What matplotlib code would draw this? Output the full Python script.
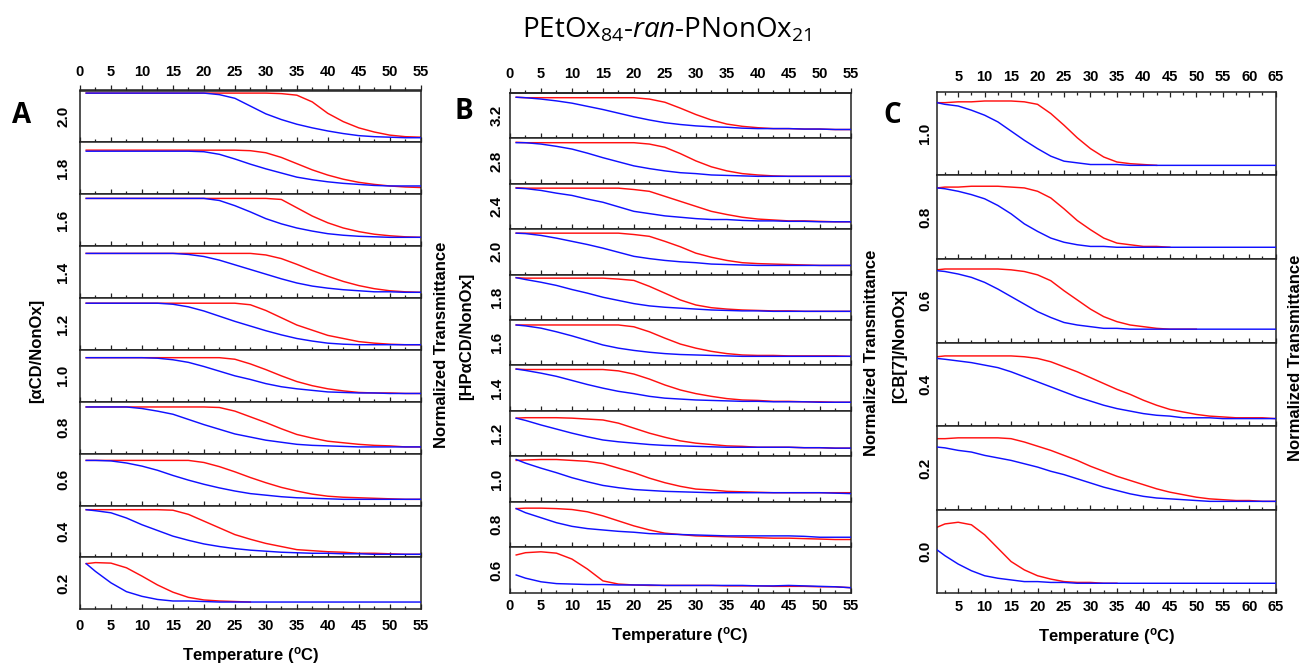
import numpy as np
import matplotlib
matplotlib.use('Agg')
import matplotlib.pyplot as plt
from matplotlib.ticker import FixedLocator

plt.rcParams['font.family'] = ['Liberation Sans', 'DejaVu Sans']
plt.rcParams['font.weight'] = 'bold'
plt.rcParams['mathtext.fontset'] = 'custom'
plt.rcParams['mathtext.rm'] = 'Open Sans:regular'
plt.rcParams['mathtext.it'] = 'Open Sans:italic:regular'
plt.rcParams['mathtext.bf'] = 'Liberation Sans:bold'

nan = np.nan

# ---------------- data ----------------
T_AB = [1, 2.5, 5, 7.5, 10, 12.5, 15, 17.5, 20, 22.5, 25, 27.5, 30, 32.5, 35,
        37.5, 40, 42.5, 45, 47.5, 50, 52.5, 55]
T_C = [1, 2.5, 5, 7.5, 10, 12.5, 15, 17.5, 20, 22.5, 25, 27.5, 30, 32.5, 35,
       37.5, 40, 42.5, 45, 47.5, 50, 52.5, 55, 57.5, 60, 62.5, 65]

A_labels = ['2.0', '1.8', '1.6', '1.4', '1.2', '1.0', '0.8', '0.6', '0.4', '0.2']
A_red = [
    [95, 95, 95, 95, 95, 95, 95, 95, 95, 95, 95, 95, 95, 94, 91, 78, 56, 40, 28, 20, 14, 11, 10],
    [85, 85, 85, 85, 85, 85, 85, 85, 85, 85, 85, 84, 80, 71, 59, 47, 37, 29, 23, 19, 16, 14, 13],
    [92, 92, 92, 92, 92, 92, 92, 92, 92, 92, 92, 92, 92, 90, 74, 58, 45, 35, 28, 23, 20, 18, 17],
    [86, 86, 86, 86, 86, 86, 86, 86, 86, 86, 86, 86, 83, 76, 65, 53, 42, 32, 24, 18, 14, 12, 11],
    [90, 90, 90, 90, 90, 90, 90, 90, 90, 90, 90, 87, 76, 62, 48, 38, 28, 22, 16, 13, 11, 10, 10],
    [85, 85, 85, 85, 85, 85, 85, 85, 85, 85, 82, 73, 62, 50, 39, 31, 25, 21, 18, 17, 17, 16, 16],
    [90, 90, 90, 90, 90, 90, 90, 90, 90, 89, 82, 71, 60, 48, 37, 30, 24, 21, 18, 16, 15, 13, 13],
    [87, 87, 87, 87, 87, 87, 87, 87, 83, 75, 65, 54, 44, 35, 28, 22, 18, 16, 15, 14, 13, 12, 12],
    [92, 92, 92, 92, 92, 92, 91, 83, 70, 57, 44, 35, 27, 21, 15, 13, 11, 10, 8, 8, 7, 6, 6],
    [88, 90, 89, 80, 64, 47, 33, 23, 18, 16, 15, 14, nan, nan, nan, nan, nan, nan, nan, nan, nan, nan, nan],
]
A_blue = [
    [95, 95, 95, 95, 95, 95, 95, 95, 95, 92, 85, 70, 55, 44, 35, 28, 22, 17, 13, 11, 10, 9, 9],
    [83, 83, 83, 83, 83, 83, 83, 83, 82, 77, 68, 58, 49, 41, 33, 28, 24, 21, 19, 17, 16, 16, 16],
    [92, 92, 92, 92, 92, 92, 92, 92, 92, 88, 78, 66, 53, 43, 35, 29, 24, 21, 19, 18, 17, 17, 17],
    [86, 86, 86, 86, 86, 86, 86, 84, 80, 73, 64, 55, 46, 37, 29, 23, 19, 16, 14, 12, 12, 11, 11],
    [90, 90, 90, 90, 90, 90, 88, 83, 75, 65, 55, 46, 37, 29, 22, 17, 13, 11, 10, 10, 10, 10, 10],
    [85, 85, 85, 85, 85, 84, 81, 76, 68, 59, 50, 43, 35, 29, 25, 22, 19, 18, 17, 17, 16, 16, 16],
    [90, 90, 90, 90, 87, 82, 76, 66, 56, 47, 38, 32, 26, 22, 18, 16, 15, 14, 13, 13, 13, 13, 13],
    [87, 87, 86, 82, 76, 68, 58, 49, 41, 34, 28, 23, 20, 17, 15, 14, 13, 12, 12, 12, 12, 12, 12],
    [92, 90, 86, 76, 63, 52, 41, 33, 26, 21, 17, 14, 12, 10, 9, 8, 8, 7, 7, 6, 6, 6, 6],
    [88, 73, 51, 34, 25, 19, 16, 16, 15, 14, 14, 14, 14, 14, 14, 14, 14, 14, 14, 14, 14, 14, 14],
]

B_labels = ['3.2', '2.8', '2.4', '2.0', '1.8', '1.6', '1.4', '1.2', '1.0', '0.8', '0.6']
B_red = [
    [90, 89, 89, 89, 89, 89, 89, 89, 89, 86, 79, 66, 52, 40, 31, 26, 23, 21, 21, 20, 20, 19, 19],
    [91, 90, 90, 90, 90, 90, 90, 90, 90, 87, 80, 66, 50, 37, 28, 22, 19, 17, 16, 16, 16, 16, 16],
    [91, 90, 90, 90, 90, 90, 90, 90, 87, 83, 72, 61, 50, 39, 32, 26, 22, 20, 18, 18, 17, 16, 16],
    [91, 91, 91, 91, 91, 91, 91, 91, 88, 84, 73, 61, 47, 38, 31, 26, 24, 23, 22, 21, 20, 20, 20],
    [93, 92, 92, 92, 92, 92, 92, 90, 87, 74, 59, 44, 33, 27, 24, 22, 21, 20, 20, 19, 19, 19, 19],
    [89, 89, 89, 89, 89, 89, 89, 89, 85, 74, 60, 47, 38, 31, 26, 23, 22, 22, 21, 21, 21, 21, 20],
    [92, 91, 91, 91, 91, 91, 91, 88, 81, 70, 57, 46, 38, 32, 27, 24, 23, 21, 21, 20, 20, 19, 19],
    [84, 85, 85, 85, 84, 82, 80, 73, 62, 51, 42, 34, 29, 26, 23, 22, 20, 20, 20, 19, 19, 18, 18],
    [91, 92, 93, 93, 91, 89, 84, 74, 64, 52, 42, 34, 28, 26, 23, 22, 21, 20, 20, 20, 20, 20, 20],
    [85, 86, 86, 85, 83, 78, 69, 58, 47, 38, 31, 28, 25, 24, 23, 22, 21, 20, 20, 19, 18, 17, 17],
    [83, 88, 90, 87, 74, 52, 26, 19, 17, 16, 16, 16, 16, 16, 15, 15, 15, 14, 14, 14, 13, 13, 11],
]
B_blue = [
    [90, 89, 86, 82, 77, 70, 63, 55, 47, 40, 34, 30, 27, 25, 24, 22, 21, 21, 21, 20, 20, 19, 19],
    [90, 90, 87, 82, 76, 67, 57, 48, 39, 33, 28, 24, 22, 19, 18, 17, 16, 16, 16, 16, 16, 16, 16],
    [90, 89, 85, 79, 74, 66, 59, 49, 39, 34, 29, 26, 23, 21, 21, 19, 18, 18, 17, 17, 16, 16, 16],
    [91, 90, 86, 80, 73, 66, 58, 49, 40, 35, 31, 28, 26, 23, 22, 21, 20, 20, 20, 20, 20, 20, 20],
    [93, 89, 83, 76, 67, 59, 50, 43, 36, 31, 28, 26, 24, 22, 21, 20, 20, 19, 19, 19, 19, 19, 19],
    [89, 87, 82, 74, 65, 55, 45, 38, 33, 29, 26, 24, 23, 22, 21, 20, 20, 20, 20, 20, 20, 20, 20],
    [92, 89, 83, 76, 67, 58, 50, 43, 38, 32, 28, 26, 24, 23, 22, 21, 21, 20, 20, 20, 19, 19, 19],
    [84, 79, 69, 60, 51, 43, 36, 32, 29, 26, 24, 23, 22, 21, 20, 20, 20, 20, 20, 19, 19, 18, 18],
    [93, 85, 74, 64, 53, 44, 36, 31, 27, 25, 23, 22, 21, 20, 20, 20, 20, 20, 20, 20, 20, 19, 18],
    [85, 76, 65, 54, 46, 41, 38, 35, 33, 30, 29, 28, 27, 26, 25, 25, 25, 25, 25, 24, 22, 22, 22],
    [39, 32, 24, 20, 19, 18, 18, 17, 17, 17, 16, 16, 16, 16, 16, 16, 15, 15, 16, 15, 14, 13, 11],
]

C_labels = ['1.0', '0.8', '0.6', '0.4', '0.2', '0.0']
C_red = [
    [87, 87, 88, 88, 89, 89, 89, 88, 85, 74, 60, 45, 32, 22, 16, 14, 13, 12, nan, nan, nan, nan, nan, nan, nan, nan, nan],
    [85, 86, 86, 87, 87, 87, 86, 85, 81, 73, 60, 46, 35, 25, 19, 17, 15, 15, 14, nan, nan, nan, nan, nan, nan, nan, nan],
    [87, 88, 88, 88, 88, 88, 87, 85, 81, 74, 62, 51, 40, 31, 25, 21, 19, 17, 16, 16, 16, nan, nan, nan, nan, nan, nan],
    [83, 84, 84, 84, 84, 84, 84, 83, 81, 77, 71, 65, 58, 51, 44, 38, 31, 25, 20, 17, 14, 12, 11, 10, 10, 10, 9],
    [85, 85, 86, 86, 86, 86, 85, 81, 76, 71, 65, 59, 52, 46, 40, 35, 30, 25, 21, 18, 15, 13, 12, 11, 11, 10, 10],
    [79, 83, 85, 82, 70, 54, 38, 28, 21, 17, 14, 13, 13, 12, 12, nan, nan, nan, nan, nan, nan, nan, nan, nan, nan, nan, nan],
]
C_blue = [
    [87, 85, 83, 78, 72, 64, 53, 42, 32, 23, 17, 15, 13, 13, 13, 12, 12, 12, 12, 12, 12, 12, 12, 12, 12, 12, 12],
    [85, 84, 81, 77, 72, 64, 54, 42, 33, 25, 20, 17, 15, 15, 14, 14, 14, 14, 14, 14, 14, 14, 14, 14, 14, 14, 14],
    [86, 85, 82, 78, 72, 64, 55, 46, 37, 30, 24, 21, 19, 17, 17, 16, 16, 16, 16, 16, 16, 16, 16, 16, 16, 16, 16],
    [81, 80, 78, 76, 73, 70, 65, 59, 53, 47, 41, 35, 30, 25, 21, 18, 15, 13, 12, 10, 10, 10, 9, 9, 9, 9, 9],
    [75, 74, 71, 69, 65, 62, 59, 55, 51, 46, 42, 37, 32, 27, 23, 19, 16, 14, 13, 12, 11, 10, 10, 10, 10, 10, 10],
    [52, 45, 35, 27, 21, 18, 16, 14, 14, 13, 13, 12, 12, 12, 12, 12, 12, 12, 12, 12, 12, 12, 12, 12, 12, 12, 12],
]

AB_major = [0, 5, 10, 15, 20, 25, 30, 35, 40, 45, 50, 55]
AB_minor = [2.5, 7.5, 12.5, 17.5, 22.5, 27.5, 32.5, 37.5, 42.5, 47.5, 52.5]
C_major = [5, 10, 15, 20, 25, 30, 35, 40, 45, 50, 55, 60, 65]
C_minor = [2.5, 7.5, 12.5, 17.5, 22.5, 27.5, 32.5, 37.5, 42.5, 47.5, 52.5, 57.5, 62.5]

# ---------------- drawing ----------------
W, H = 1304, 663
fig = plt.figure(figsize=(W / 100, H / 100), dpi=100)
RED = '#ff1010'
BLUE = '#1010ff'
SPINE = '#222222'
TICK_FS = 10.5


def px_axes(l, t, r, b):
    return fig.add_axes([l / W, 1 - b / H, (r - l) / W, (b - t) / H])


def style_ticks(obj, direction, major_len=3.6, minor_len=2.0):
    obj.tick_params(axis='x', which='major', direction=direction, length=major_len,
                    width=0.9, colors=SPINE, labelcolor='black', labelsize=TICK_FS)
    obj.tick_params(axis='x', which='minor', direction=direction, length=minor_len,
                    width=0.9, colors=SPINE)


def panel(left, right, top, bottom, T, reds, blues, labels, xlim, major, minor,
          top_outward, label_x, top_pad, bot_pad):
    n = len(reds)
    h = (bottom - top) / n
    for i in range(n):
        t = top + i * h
        ax = px_axes(left, t, right, t + h)
        ax.plot(T, np.array(reds[i], dtype=float), color=RED, lw=1.05, zorder=2)
        ax.plot(T, np.array(blues[i], dtype=float), color=BLUE, lw=1.05, zorder=3)
        ax.set_xlim(*xlim)
        ax.set_ylim(0, 100)
        ax.set_yticks([])
        for s in ax.spines.values():
            s.set_color(SPINE)
            s.set_linewidth(1.1)
        ax.xaxis.set_major_locator(FixedLocator(major))
        ax.xaxis.set_minor_locator(FixedLocator(minor))
        style_ticks(ax, 'in')
        ax.tick_params(axis='x', which='both', bottom=True, top=False,
                       labelbottom=(i == n - 1), labeltop=False, pad=bot_pad)
        if i == n - 1:
            ax.set_xticklabels([str(v) for v in major])
        if i == 0:
            if top_outward:
                sec = ax.secondary_xaxis('top')
                sec.xaxis.set_major_locator(FixedLocator(major))
                sec.xaxis.set_minor_locator(FixedLocator(minor))
                sec.set_xticklabels([str(v) for v in major])
                style_ticks(sec, 'out')
                sec.tick_params(axis='x', which='major', pad=top_pad)
                sec.spines['top'].set_color(SPINE)
                sec.spines['top'].set_linewidth(1.1)
            else:
                ax.tick_params(axis='x', which='both', top=True, labeltop=True)
                ax.tick_params(axis='x', which='major', pad=top_pad)
        fig.text(label_x / W, 1 - (t + h / 2) / H, labels[i], rotation=90,
                 ha='center', va='center', fontsize=11, fontweight='bold')


panel(80, 420.7, 90.5, 609.3, T_AB, A_red, A_blue, A_labels, (0, 55),
      AB_major, AB_minor, True, 63.5, 4.5, 7.0)
panel(510, 850.7, 92.7, 592.7, T_AB, B_red, B_blue, B_labels, (0, 55),
      AB_major, AB_minor, True, 496.5, 4.5, 4.6)
panel(937, 1275.7, 91.8, 593.3, T_C, C_red, C_blue, C_labels, (1, 65),
      C_major, C_minor, False, 925, 5.5, 5.1)

LBL_FS = 12
xlab = r'Temperature ($\mathbf{^o}$C)'
fig.text(251 / W, 1 - 655 / H, xlab, ha='center', va='center', fontsize=LBL_FS, fontweight='bold')
fig.text(680 / W, 1 - 635 / H, xlab, ha='center', va='center', fontsize=LBL_FS, fontweight='bold')
fig.text(1107 / W, 1 - 636 / H, xlab, ha='center', va='center', fontsize=LBL_FS, fontweight='bold')

for x, y, s in [(37, 351, '[αCD/NonOx]'), (467, 336, '[HPαCD/NonOx]'),
                (900, 346, '[CB[7]/NonOx]')]:
    fig.text(x / W, 1 - y / H, s, rotation=90, ha='center', va='center',
             fontsize=LBL_FS, fontweight='bold')
for x, y in [(441, 345), (871, 353), (1295, 358)]:
    fig.text(x / W, 1 - y / H, 'Normalized Transmittance', rotation=90,
             ha='center', va='center', fontsize=LBL_FS, fontweight='bold')

for x, y, s in [(21.5, 123.3, 'A'), (464, 119, 'B'), (892, 123, 'C')]:
    fig.text(x / W, 1 - y / H, s, ha='center', va='baseline', fontsize=20,
             fontweight='bold', family=['Open Sans', 'DejaVu Sans'])

fig.text(667 / W, 1 - 37 / H, r'PEtOx$_{\mathrm{84}}$-$\mathit{ran}$-PNonOx$_{\mathrm{21}}$',
         ha='center', va='baseline', fontsize=20, fontweight='normal',
         family=['Open Sans', 'DejaVu Sans'])

fig.savefig('out.png', dpi=100)
